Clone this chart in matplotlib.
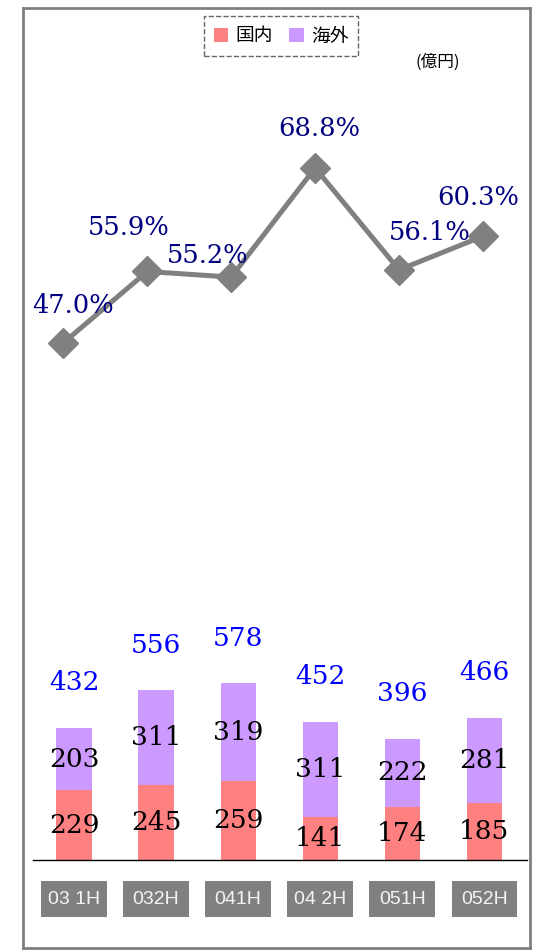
import matplotlib
matplotlib.use('Agg')
import matplotlib.pyplot as plt

periods = ['03 1H', '032H', '041H', '04 2H', '051H', '052H']
domestic = [229, 245, 259, 141, 174, 185]
overseas = [203, 311, 319, 311, 222, 281]
totals = [432, 556, 578, 452, 396, 466]
ratio = [47.0, 55.9, 55.2, 68.8, 56.1, 60.3]

# label offsets for the ratio labels (pixels)
ratio_offsets = [(10, 37), (-18, 44), (-24, 22), (4, 39), (31, 37), (-5, 39)]

W, H = 536, 952
fig = plt.figure(figsize=(W / 100, H / 100), dpi=100)

def px_axes(x0, y0, x1, y1):
    return fig.add_axes([x0 / W, 1 - y1 / H, (x1 - x0) / W, (y1 - y0) / H])

# outer frame
frame = px_axes(23, 8, 530, 948)
frame.set_xticks([]); frame.set_yticks([])
frame.patch.set_alpha(0)
for s in frame.spines.values():
    s.set_color('#808080'); s.set_linewidth(2)

x = list(range(len(periods)))

# stacked bars
ax = px_axes(33, 100, 527, 860)
ax.patch.set_alpha(0)
b1 = ax.bar(x, domestic, width=0.43, color='#FF8080', label='国内')
b2 = ax.bar(x, overseas, width=0.43, bottom=domestic, color='#CC99FF', label='海外')
ax.set_xlim(-0.5, 5.52)
ax.set_ylim(0, 2487)
for s in ['top', 'right', 'left']:
    ax.spines[s].set_visible(False)
ax.spines['bottom'].set_color('black')
ax.spines['bottom'].set_linewidth(1)
ax.set_xticks([]); ax.set_yticks([])

num_font = dict(family='DejaVu Serif', fontsize=19)
for i in x:
    ax.text(i, domestic[i] / 2, str(domestic[i]), ha='center', va='center',
            color='black', **num_font)
    ax.text(i, domestic[i] + overseas[i] / 2, str(overseas[i]), ha='center',
            va='center', color='black', **num_font)
    ax.annotate(str(totals[i]), (i, totals[i]), xytext=(0, 45),
                textcoords='offset pixels', ha='center', va='center',
                color='#0000FF', **num_font)

# ratio line
lx = px_axes(23, 100, 530, 860)
lx.patch.set_alpha(0)
lx.plot(x, ratio, color='#808080', linewidth=3.6, marker='D', markersize=15)
lx.set_xlim(-0.48, 5.56)
lx.set_ylim(-17.4, 77.26)
lx.axis('off')
for i in x:
    lx.annotate(f'{ratio[i]:.1f}%', (i, ratio[i]), xytext=ratio_offsets[i],
                textcoords='offset pixels', ha='center', va='center',
                color='#000080', family='DejaVu Serif', fontsize=18.5)

# category boxes
cx = px_axes(33, 881, 527, 917)
cx.bar(x, [1] * len(x), width=0.8, color='#808080')
cx.set_xlim(-0.5, 5.52)
cx.set_ylim(0, 1)
cx.axis('off')
for i in x:
    cx.text(i, 0.5, periods[i], ha='center', va='center', color='#F4F4F4',
            family='Liberation Sans', fontsize=14)

# legend
leg = fig.legend(handles=[b1, b2], loc='center', bbox_to_anchor=(281 / W, 1 - 36 / H),
                 ncol=2, frameon=True, fancybox=False, handlelength=0.75,
                 handleheight=0.75, handletextpad=0.4, columnspacing=0.9,
                 borderpad=0.5, prop={'family': ['Noto Sans CJK JP', 'DejaVu Sans'], 'size': 13.5})
leg.get_frame().set_linestyle('--')
leg.get_frame().set_edgecolor('#404040')
leg.get_frame().set_linewidth(1)

fig.text(438 / W, 1 - 62 / H, '(億円)', ha='center', va='center',
         family=['Noto Sans CJK JP', 'DejaVu Sans'], fontsize=12)

plt.savefig('out.png', dpi=100)
